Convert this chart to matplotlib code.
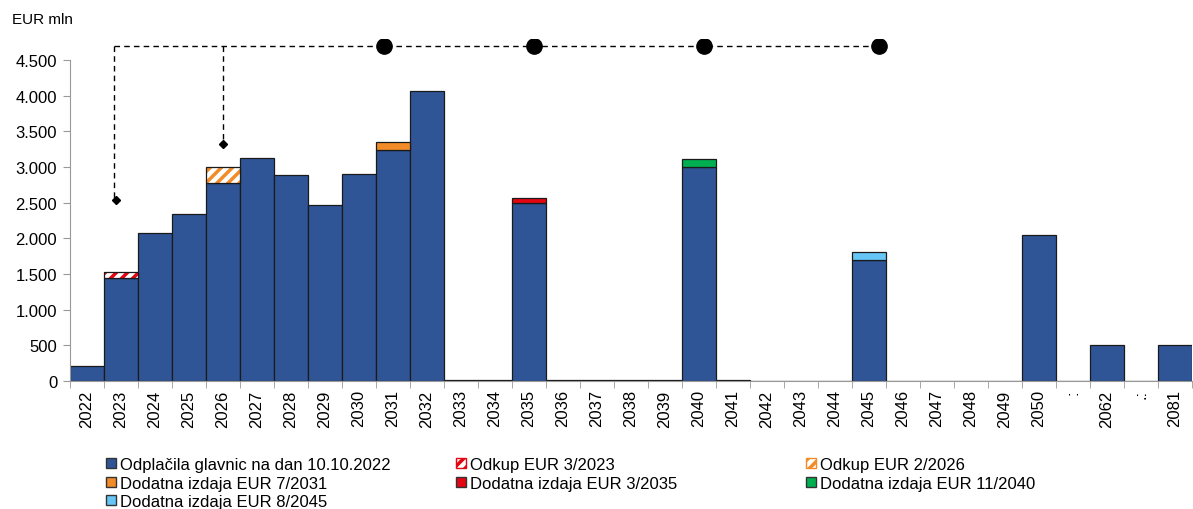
import matplotlib.pyplot as plt
from matplotlib.patches import Patch
import numpy as np

plt.rcParams["font.family"] = ["Liberation Sans", "DejaVu Sans"]
plt.rcParams["hatch.linewidth"] = 2.5

# podatki
leta = [str(y) for y in range(2022, 2051)] + [":", "2062", ".:", "2081"]
glavnice = [210, 1450, 2070, 2340, 2770, 3120, 2890, 2470, 2900, 3240, 4060,
            10, 10, 2500, 10, 10, 10, 10, 3000, 10, 0, 0, 0, 1700, 0, 0, 0, 0,
            2040, 0, 500, 0, 500]
odkup_2023 = {"2023": 85}
odkup_2026 = {"2026": 230}
izdaja_2031 = {"2031": 110}
izdaja_2035 = {"2035": 70}
izdaja_2040 = {"2040": 110}
izdaja_2045 = {"2045": 110}

modra = "#2F5597"
oranzna = "#F28C28"
rdeca = "#E30613"
zelena = "#00B050"
svetlo_modra = "#66C6F5"

x = np.arange(len(leta))

fig = plt.figure(figsize=(11.93, 5.10), dpi=100)
ax = fig.add_axes([69.7 / 1193, 1 - 382 / 510, 1122 / 1193, 342.4 / 510])

ax.bar(x, glavnice, width=1.0, color=modra, edgecolor="#1a1a1a", linewidth=0.9)


def dodaj(sl, barva, srafura=False):
    for leto, v in sl.items():
        i = leta.index(leto)
        if srafura:
            ax.bar(i, v, bottom=glavnice[i], width=1.0, color="white",
                   edgecolor=barva, hatch="///", linewidth=0)
            ax.bar(i, v, bottom=glavnice[i], width=1.0, fill=False,
                   edgecolor="#1a1a1a", linewidth=0.9)
        else:
            ax.bar(i, v, bottom=glavnice[i], width=1.0, color=barva,
                   edgecolor="#1a1a1a", linewidth=0.9)


dodaj(odkup_2023, rdeca, srafura=True)
dodaj(odkup_2026, oranzna, srafura=True)
dodaj(izdaja_2031, oranzna)
dodaj(izdaja_2035, rdeca)
dodaj(izdaja_2040, zelena)
dodaj(izdaja_2045, svetlo_modra)

# casovnica (črtkana)
vrh = 4700
crta = dict(color="black", linestyle=(0, (4, 3)), linewidth=1)
x23 = leta.index("2023") - 0.2
x26 = leta.index("2026")
pike = [leta.index("2031") - 0.25, leta.index("2035") + 0.15,
        leta.index("2040") + 0.15, leta.index("2045") + 0.3]
ax.plot([x23, pike[-1]], [vrh, vrh], **crta)
ax.plot([x23, x23], [vrh, 2540], **crta)
ax.plot([x26, x26], [vrh, 3320], **crta)
ax.plot([x23 + 0.05], [2540], marker="D", color="black", markersize=4)
ax.plot([x26], [3320], marker="D", color="black", markersize=4)
ax.plot(pike, [vrh] * len(pike), "o", color="black", markersize=11)

ax.set_xlim(-0.5, len(leta) - 0.5)
ax.set_ylim(0, 4800)
ax.set_yticks(range(0, 4501, 500))
ax.set_yticklabels([f"{v:,}".replace(",", ".") for v in range(0, 4501, 500)], fontsize=12)
ax.set_xticks(x)
ax.set_xticklabels(leta, rotation=90, fontsize=12)
ax.set_xticks(np.arange(-0.5, len(leta), 1), minor=True)
ax.tick_params(axis="x", which="major", length=0, pad=6)
ax.tick_params(axis="x", which="minor", length=5, color="#999999")
ax.tick_params(axis="y", length=5, color="#999999", pad=4)

for s in ["top", "right"]:
    ax.spines[s].set_visible(False)
ax.spines["left"].set_color("#999999")
ax.spines["left"].set_bounds(0, 4500)
ax.spines["bottom"].set_color("#999999")

fig.text(12 / 1193, 1 - 20 / 510, "EUR mln", fontsize=11, va="center")

# legenda
stolpci = [
    [(Patch(facecolor=modra, edgecolor="#333333"), "Odplačila glavnic na dan 10.10.2022"),
     (Patch(facecolor=oranzna, edgecolor="#333333"), "Dodatna izdaja EUR 7/2031"),
     (Patch(facecolor=svetlo_modra, edgecolor="#333333"), "Dodatna izdaja EUR 8/2045")],
    [(Patch(facecolor="white", edgecolor=rdeca, hatch="///"), "Odkup EUR 3/2023"),
     (Patch(facecolor=rdeca, edgecolor="#333333"), "Dodatna izdaja EUR 3/2035")],
    [(Patch(facecolor="white", edgecolor=oranzna, hatch="///"), "Odkup EUR 2/2026"),
     (Patch(facecolor=zelena, edgecolor="#333333"), "Dodatna izdaja EUR 11/2040")],
]
for k, xpos in zip(stolpci, [98, 448, 798]):
    fig.legend([h for h, _ in k], [t for _, t in k], loc="upper left",
               bbox_to_anchor=(xpos / 1193, 1 - 450 / 510), frameon=False,
               fontsize=12, handlelength=0.55, handleheight=0.55,
               handletextpad=0.3, labelspacing=0.2, borderpad=0)

fig.savefig("out.png", dpi=100)
